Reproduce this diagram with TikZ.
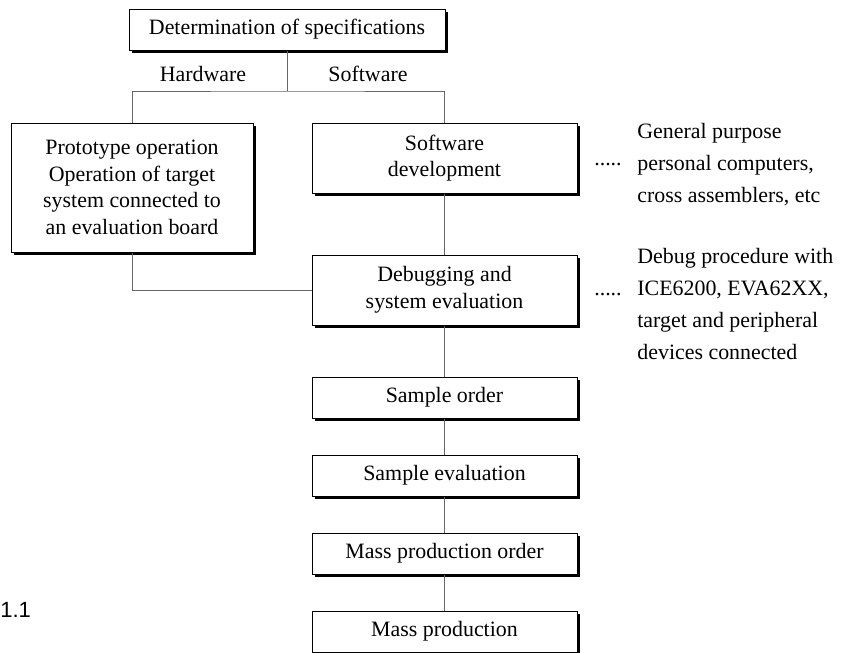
\documentclass[tikz,border=0pt]{standalone}
\usepackage{fontspec}
\setmainfont{Liberation Serif}
\newfontfamily\capfont{Liberation Sans}
\usetikzlibrary{shadows}

\begin{document}
\begin{tikzpicture}[x=0.5pt, y=-0.5pt,
  stage/.style={draw, line width=0.5pt, fill=white, inner sep=0pt, align=center,
    font=\fontsize{10.95}{13.35}\selectfont,
    drop shadow={shadow xshift=1.5pt, shadow yshift=-1.5pt, fill=black, opacity=1}},
  link/.style={draw=black!60, line width=0.5pt},
  note/.style={align=left, inner sep=0pt, font=\fontsize{10.95}{16}\selectfont}]
  \useasboundingbox (0,0) rectangle (847,653);

  % stages of the flow
  \node[stage, minimum width=158pt, minimum height=20.5pt] (spec) at (287,29.5) {Determination of specifications};
  \node[stage, minimum width=121pt, minimum height=64.5pt] (proto) at (132,187.5)
    {Prototype operation\\Operation of target\\system connected to\\an evaluation board};
  \node[stage, minimum width=132.5pt, minimum height=35pt] (soft) at (444.5,158) {Software\\development};
  \node[stage, minimum width=132.5pt, minimum height=35pt] (debug) at (444.5,290) {Debugging and\\system evaluation};
  \node[stage, minimum width=132.5pt, minimum height=20.5pt] (sorder) at (444.5,397.5) {Sample order};
  \node[stage, minimum width=132.5pt, minimum height=20.5pt] (seval) at (444.5,475.5) {Sample evaluation};
  \node[stage, minimum width=132.5pt, minimum height=20.5pt] (morder) at (444.5,553.5) {Mass production order};
  \node[stage, minimum width=132.5pt, minimum height=20.5pt] (mprod) at (444.5,631.5) {Mass production};

  % branch labels
  \node[font=\fontsize{10.95}{13.35}\selectfont] (hw) at (203,74) {Hardware};
  \node[font=\fontsize{10.95}{13.35}\selectfont] (sw) at (368,74) {Software};

  % connectors
  \coordinate (fork) at (287,91);
  \draw[link] (spec.south) -- (fork);
  \draw[link] (proto.north) |- (fork) -| (soft.north);
  \draw[link] (proto.south) |- (debug.west);
  \draw[link] (soft.south) -- (debug.north);
  \foreach \a/\b in {debug/sorder, sorder/seval, seval/morder, morder/mprod}
    \draw[link] (\a.south) -- (\b.north);

  % side notes
  \node[font=\fontsize{10.95}{13.35}\selectfont] (softdots) at (608,165) {.....};
  \node[note, anchor=west] (softnote) at (637,165) {General purpose\\personal computers,\\cross assemblers, etc};
  \node[font=\fontsize{10.95}{13.35}\selectfont] (debugdots) at (608,295) {.....};
  \node[note, anchor=west] (debugnote) at (637,304) {Debug procedure with\\ICE6200, EVA62XX,\\target and peripheral\\devices connected};

  \node[font=\capfont\fontsize{11}{13}\selectfont, anchor=west, inner sep=0pt] (fignum) at (0,610) {1.1};
\end{tikzpicture}
\end{document}
